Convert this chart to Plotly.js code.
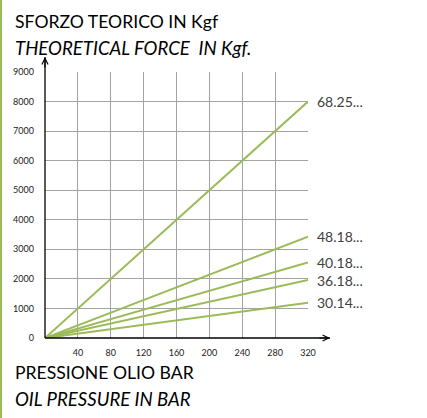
<!DOCTYPE html>
<html><head><meta charset="utf-8">
<script src="https://cdn.plot.ly/plotly-3.0.1.min.js"></script>
<style>html,body{margin:0;padding:0;background:#fff;}#c{width:427px;height:418px;}</style>
</head><body><div id="c"></div>
<script>
var seriesNames = ["68.25...", "48.18...", "40.18...", "36.18...", "30.14..."];
var pressure = [0, 320];
var force68 = [0, 8000];
var force48 = [0, 3430];
var force40 = [0, 2555];
var force36 = [0, 1960];
var force30 = [0, 1195];
var xTicks = [40, 80, 120, 160, 200, 240, 280, 320];
var yTicks = [0, 1000, 2000, 3000, 4000, 5000, 6000, 7000, 8000, 9000];
var seriesValues = [force68, force48, force40, force36, force30];

var W = 427, H = 418, L = 45, R = 119, T = 72, B = 80;
var PW = W - L - R, PH = H - T - B;
function px(x) { return (x - L) / PW; }
function py(y) { return (H - B - y) / PH; }

var green = "#9bbb59";
var traces = seriesValues.map(function (v, i) {
  return { x: pressure, y: v, type: "scatter", mode: "lines", name: seriesNames[i],
    line: { color: green, width: 2 }, hoverinfo: "skip" };
});

var ann = seriesValues.map(function (v, i) {
  return { x: pressure[pressure.length - 1], y: v[v.length - 1], xref: "x", yref: "y",
    text: seriesNames[i], showarrow: false, xanchor: "left", yanchor: "middle", xshift: 7,
    font: { family: "Lato", size: 14, color: "#404040" } };
});
var titleFont = { family: "Lato", size: 17.6, color: "#000" };
var italFont = { family: "Lato", size: 18.6, color: "#000" };
ann.push({ xref: "paper", yref: "paper", x: px(13), y: py(22), text: "SFORZO TEORICO IN Kgf", showarrow: false, xanchor: "left", yanchor: "middle", font: titleFont });
ann.push({ xref: "paper", yref: "paper", x: px(13), y: py(48), text: "<i>THEORETICAL FORCE  IN Kgf.</i>", showarrow: false, xanchor: "left", yanchor: "middle", font: italFont });
ann.push({ xref: "paper", yref: "paper", x: px(13), y: py(372), text: "PRESSIONE OLIO BAR", showarrow: false, xanchor: "left", yanchor: "middle", font: titleFont });
ann.push({ xref: "paper", yref: "paper", x: px(13), y: py(399), text: "<i>OIL PRESSURE IN BAR</i>", showarrow: false, xanchor: "left", yanchor: "middle", font: italFont });
// arrowheads
ann.push({ xref: "paper", yref: "paper", x: px(45), y: py(57), ax: 0, ay: 12, text: "", showarrow: true, arrowhead: 5, arrowsize: 1, arrowwidth: 1.2, arrowcolor: "#000" });
ann.push({ xref: "paper", yref: "paper", x: px(330), y: py(338), ax: -12, ay: 0, text: "", showarrow: true, arrowhead: 5, arrowsize: 1, arrowwidth: 1.2, arrowcolor: "#000" });

var shapes = [
  { type: "line", xref: "paper", yref: "paper", x0: px(45), x1: px(45), y0: py(338), y1: py(57), line: { color: "#000", width: 1.3 } },
  { type: "line", xref: "paper", yref: "paper", x0: px(45), x1: px(330), y0: py(338), y1: py(338), line: { color: "#000", width: 1.3 } },
  { type: "line", xref: "paper", yref: "paper", x0: px(1), x1: px(1), y0: py(0), y1: py(418), line: { color: green, width: 2 } }
];

var layout = {
  width: W, height: H, margin: { l: L, r: R, t: T, b: B, pad: 0 },
  paper_bgcolor: "#fff", plot_bgcolor: "#fff", showlegend: false,
  xaxis: { range: [0, 320], tickvals: xTicks, ticktext: xTicks.map(String), showgrid: true, gridcolor: "#a3a3a3", gridwidth: 1,
    zeroline: false, showline: false, ticks: "", ticklabelstandoff: 8, fixedrange: true,
    tickfont: { family: "Lato", size: 9, color: "#222" } },
  yaxis: { range: [0, 9000], tickvals: yTicks, ticktext: yTicks.map(String), showgrid: true, gridcolor: "#a3a3a3", gridwidth: 1,
    zeroline: false, showline: false, ticks: "", ticklabelstandoff: 10, fixedrange: true,
    tickfont: { family: "Lato", size: 9, color: "#222" } },
  annotations: ann, shapes: shapes
};
Plotly.newPlot("c", traces, layout, { displayModeBar: false, staticPlot: true });
</script></body></html>
